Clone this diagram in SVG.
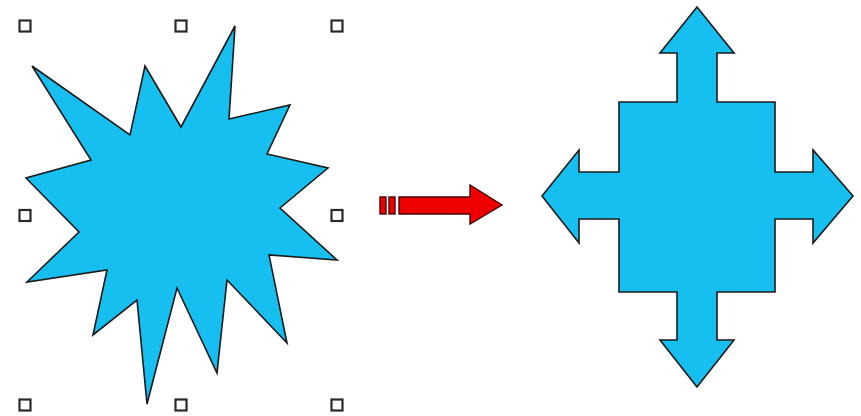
<svg xmlns="http://www.w3.org/2000/svg" width="861" height="416" viewBox="0 0 861 416">
<style>
.shape{fill:#16bff0;stroke:#1a1a1a;stroke-width:1.6;stroke-linejoin:miter}
.handle{fill:#fff;stroke:#2a2a2a;stroke-width:2.2}
.red{fill:#ee0000;stroke:#4a0000;stroke-width:1.4}
</style>
<rect width="861" height="416" fill="#fff"/>
<g id="starburst">
<polygon class="shape" points="32,66 130,135 145,66 181,127 235,26 229,119 290,105 267,154 328,168 280,208 337,260 269,255 287,343 227,280 217,373 177,288 147,404 137,300 93,335 107,270 27,282 79,232 26,178 91,160"/>
</g>
<g id="handles">
<rect class="handle" x="19.5" y="20.5" width="11" height="11"/>
<rect class="handle" x="175.5" y="20.5" width="11" height="11"/>
<rect class="handle" x="331.5" y="20.5" width="11" height="11"/>
<rect class="handle" x="19.5" y="210" width="11" height="11"/>
<rect class="handle" x="331.5" y="210" width="11" height="11"/>
<rect class="handle" x="19.5" y="399.5" width="11" height="11"/>
<rect class="handle" x="175.5" y="399.5" width="11" height="11"/>
<rect class="handle" x="331.5" y="399.5" width="11" height="11"/>
</g>
<g id="connectors">
<g id="red-arrow">
<rect class="red" x="380" y="197" width="6" height="17"/>
<rect class="red" x="389" y="197" width="6" height="17"/>
<polygon class="red" points="399,197 470,197 470,185 502,205 470,224 470,214 399,214"/>
</g>
</g>
<g id="cross-arrow">
<polygon class="shape" points="697,7 734,53 717,53 717,102 775,102 775,172 813,172 813,150 853,196 813,243 813,219 775,219 775,292 717,292 717,340 734,340 697,387 660,340 677,340 677,292 619,292 619,219 579,219 579,243 542,196 579,150 579,172 619,172 619,102 677,102 677,53 660,53"/>
</g>
</svg>
